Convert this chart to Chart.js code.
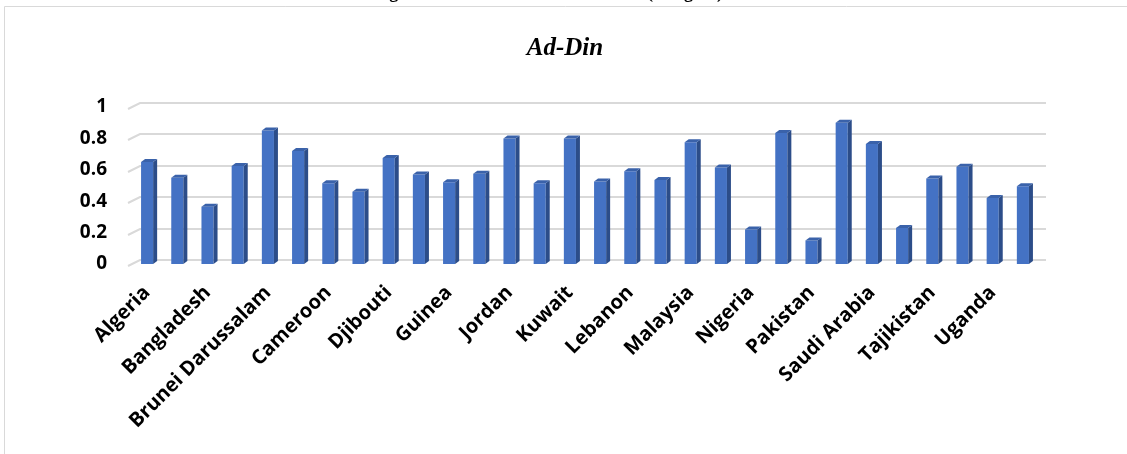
<!DOCTYPE html>
<html>
<head>
<meta charset="utf-8">
<script src="https://cdn.jsdelivr.net/npm/chart.js@4.4.1/dist/chart.umd.min.js"></script>
<style>
  body { margin: 0; background: #fff; }
  #wrap { width: 1127px; height: 454px; }
</style>
</head>
<body>
<div id="wrap"><canvas id="chart" width="1127" height="454"></canvas></div>
<script>
// Ad-Din scores per country
const countries = [
  "Algeria", "Azerbaijan", "Bangladesh", "Benin", "Brunei Darussalam", "Burkina Faso",
  "Cameroon", "Chad", "Djibouti", "Egypt", "Guinea", "Indonesia",
  "Jordan", "Kazakhstan", "Kuwait", "Kyrgyz Republic", "Lebanon", "Libya",
  "Malaysia", "Morocco", "Nigeria", "Oman", "Pakistan", "Qatar",
  "Saudi Arabia", "Senegal", "Tajikistan", "Turkey", "Uganda", "United Arab Emirates"
];
const adDinValues = [
  0.65, 0.55, 0.365, 0.625, 0.85, 0.72,
  0.515, 0.46, 0.675, 0.57, 0.52, 0.575,
  0.80, 0.515, 0.80, 0.525, 0.59, 0.535,
  0.775, 0.615, 0.22, 0.835, 0.15, 0.90,
  0.765, 0.23, 0.545, 0.62, 0.42, 0.495
];
const yTicks = [0, 0.2, 0.4, 0.6, 0.8, 1];

const chartTitle = "Ad-Din";
const figureCaption = "Figure 4.2: OIC Countries' Ad-Din (Religion) Value";

const labelFont = "'Open Sans', 'DejaVu Sans', sans-serif";

// back wall gridlines with the little perspective stub on the left
const backWall = {
  id: 'backWall',
  beforeDatasetsDraw(chart) {
    const { ctx, chartArea, scales } = chart;
    ctx.save();
    ctx.strokeStyle = '#d9d9d9';
    ctx.lineWidth = 2;
    yTicks.forEach(v => {
      const py = Math.round(scales.y.getPixelForValue(v));
      ctx.beginPath();
      ctx.moveTo(chartArea.left - 4, py + 2);
      ctx.lineTo(chartArea.left + 8, py - 4);
      ctx.lineTo(chartArea.right + 8, py - 4);
      ctx.stroke();
    });
    ctx.restore();
  }
};

// fake 3D: darker side face and top face on each column
const barDepth = {
  id: 'barDepth',
  afterDatasetsDraw(chart) {
    const { ctx } = chart;
    const dx = 4, dy = 3;
    chart.getDatasetMeta(0).data.forEach(bar => {
      const { x, y, base, width } = bar.getProps(['x', 'y', 'base', 'width'], true);
      const l = x - width / 2, r = x + width / 2;
      ctx.save();
      ctx.fillStyle = '#2c4d89';
      ctx.beginPath();
      ctx.moveTo(r, y);
      ctx.lineTo(r + dx, y - dy);
      ctx.lineTo(r + dx, base - dy);
      ctx.lineTo(r, base);
      ctx.closePath();
      ctx.fill();
      ctx.fillStyle = '#3a62aa';
      ctx.beginPath();
      ctx.moveTo(l, y);
      ctx.lineTo(l + dx, y - dy);
      ctx.lineTo(r + dx, y - dy);
      ctx.lineTo(r, y);
      ctx.closePath();
      ctx.fill();
      ctx.restore();
    });
  }
};

// frame, caption line and chart title
const decorations = {
  id: 'decorations',
  afterDraw(chart) {
    const { ctx } = chart;
    ctx.save();
    ctx.strokeStyle = '#d9d9d9';
    ctx.lineWidth = 1;
    ctx.beginPath();
    ctx.moveTo(4.5, 454);
    ctx.lineTo(4.5, 6.5);
    ctx.lineTo(1127, 6.5);
    ctx.stroke();

    ctx.fillStyle = '#000';
    ctx.textAlign = 'center';
    ctx.textBaseline = 'alphabetic';
    ctx.font = "bold 18px 'Liberation Serif', serif";
    ctx.fillText(figureCaption, 572, -2);

    ctx.font = "bold italic 25px 'Liberation Serif', serif";
    ctx.fillText(chartTitle, 565, 55);
    ctx.restore();
  }
};

new Chart(document.getElementById('chart'), {
  type: 'bar',
  data: {
    labels: countries,
    datasets: [{
      label: chartTitle,
      data: adDinValues,
      backgroundColor: '#4472c4',
      borderWidth: 0,
      barPercentage: 0.4,
      categoryPercentage: 1.0
    }]
  },
  options: {
    responsive: false,
    animation: false,
    layout: { padding: { top: 107, right: 89, bottom: 0, left: 0 } },
    plugins: {
      legend: { display: false },
      title: { display: false },
      tooltip: { enabled: false }
    },
    scales: {
      x: {
        grid: { display: false, drawTicks: false },
        border: { display: false },
        afterFit: s => { s.height = 190; },
        ticks: {
          autoSkip: false,
          minRotation: 45,
          maxRotation: 45,
          padding: 17,
          color: '#000',
          font: { family: labelFont, size: 20, weight: 'bold' },
          callback: (v, i) => (i % 2 === 0 ? countries[i] : '')
        }
      },
      y: {
        min: 0,
        max: 1,
        grid: { display: false, drawTicks: false },
        border: { display: false },
        afterFit: s => { s.width = 132; },
        afterBuildTicks: s => { s.ticks = yTicks.map(v => ({ value: v })); },
        ticks: {
          padding: 25,
          color: '#000',
          font: { family: labelFont, size: 19, weight: 'bold' },
          callback: v => String(v)
        }
      }
    }
  },
  plugins: [backWall, barDepth, decorations]
});
</script>
</body>
</html>
